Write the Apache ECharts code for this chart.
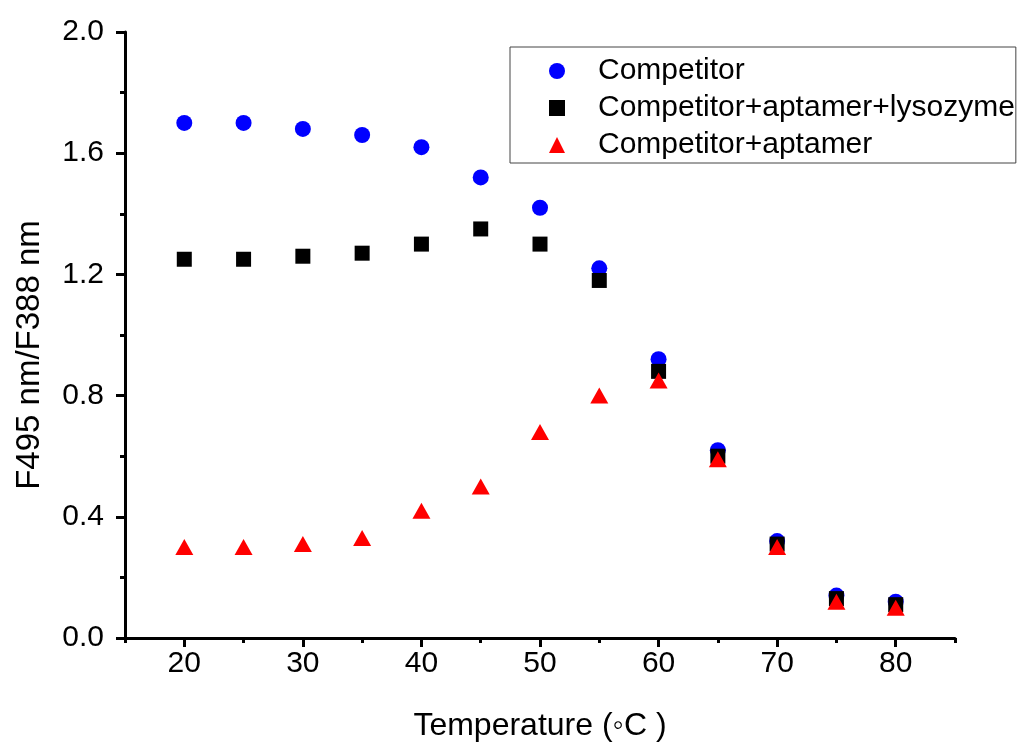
<!DOCTYPE html>
<html>
<head>
<meta charset="utf-8">
<script src="https://cdn.jsdelivr.net/npm/echarts@6/dist/echarts.min.js"></script>
<style>
  html, body { margin: 0; padding: 0; background: #fff; }
  #chart { width: 1018px; height: 747px; }
</style>
</head>
<body>
<div id="chart"></div>
<script>
var temps = [20, 25, 30, 35, 40, 45, 50, 55, 60, 65, 70, 75, 80];
var competitor = [1.70, 1.70, 1.68, 1.66, 1.62, 1.52, 1.42, 1.22, 0.92, 0.62, 0.32, 0.14, 0.12];
var withLysozyme = [1.25, 1.25, 1.26, 1.27, 1.30, 1.35, 1.30, 1.18, 0.88, 0.60, 0.31, 0.13, 0.11];
var withAptamer = [0.30, 0.30, 0.31, 0.33, 0.42, 0.50, 0.68, 0.80, 0.85, 0.59, 0.30, 0.12, 0.10];
var majorX = [20, 30, 40, 50, 60, 70, 80];
var minorX = [15, 25, 35, 45, 55, 65, 75, 85];

var pairs = function (ys) {
    return temps.map(function (t, i) { return [t, ys[i]]; });
};

var font = 'Liberation Sans, Arial, sans-serif';
var chart = echarts.init(document.getElementById('chart'));

var option = {
    backgroundColor: '#fff',
    animation: false,
    textStyle: { fontFamily: font },
    grid: { left: 125, right: 63, top: 32, bottom: 109 },
    legend: {
        orient: 'vertical',
        left: 510,
        top: 47,
        padding: [9, 1, 3, 39],
        itemGap: 7,
        itemWidth: 16,
        itemHeight: 16,
        borderColor: '#444',
        borderWidth: 1,
        textStyle: { fontSize: 30, lineHeight: 30, color: '#000', fontFamily: font, padding: [0, 0, 0, 28] },
        data: ['Competitor', 'Competitor+aptamer+lysozyme', 'Competitor+aptamer']
    },
    xAxis: [
        {
            type: 'value',
            min: 15,
            max: 85,
            name: 'Temperature (\u25e6C )',
            nameLocation: 'middle',
            nameGap: 72,
            nameTextStyle: { fontSize: 32, color: '#000', fontFamily: font },
            axisLine: { lineStyle: { color: '#000', width: 3 } },
            axisTick: { customValues: majorX, length: 9, lineStyle: { color: '#000', width: 3 } },
            axisLabel: { customValues: majorX, fontSize: 30, color: '#000', margin: 11, fontFamily: font },
            splitLine: { show: false }
        },
        {
            type: 'value',
            min: 15,
            max: 85,
            position: 'bottom',
            axisLine: { show: false },
            axisTick: { customValues: minorX, length: 5, lineStyle: { color: '#000', width: 3 } },
            axisLabel: { show: false },
            splitLine: { show: false }
        }
    ],
    yAxis: {
        type: 'value',
        min: 0,
        max: 2.0,
        interval: 0.4,
        name: 'F495 nm/F388 nm',
        nameLocation: 'middle',
        nameGap: 79,
        nameTextStyle: { fontSize: 33, color: '#000', fontFamily: font, padding: [0, 40, 0, 0] },
        axisLine: { show: true, lineStyle: { color: '#000', width: 3 } },
        axisTick: { show: true, length: 9, lineStyle: { color: '#000', width: 3 } },
        minorTick: { show: true, splitNumber: 2, length: 5, lineStyle: { color: '#000', width: 3 } },
        axisLabel: {
            fontSize: 30,
            color: '#000',
            margin: 21,
            fontFamily: font,
            formatter: function (v) { return v.toFixed(1); }
        },
        splitLine: { show: false }
    },
    series: [
        {
            name: 'Competitor',
            type: 'scatter',
            symbol: 'circle',
            symbolSize: 16,
            itemStyle: { color: '#0000ff', opacity: 1 },
            data: pairs(competitor)
        },
        {
            name: 'Competitor+aptamer+lysozyme',
            type: 'scatter',
            symbol: 'rect',
            symbolSize: 15,
            itemStyle: { color: '#000000', opacity: 1 },
            data: pairs(withLysozyme)
        },
        {
            name: 'Competitor+aptamer',
            type: 'scatter',
            symbol: 'triangle',
            symbolSize: [18, 16],
            itemStyle: { color: '#ff0000', opacity: 1 },
            data: pairs(withAptamer)
        }
    ]
};
chart.setOption(option);
</script>
</body>
</html>
